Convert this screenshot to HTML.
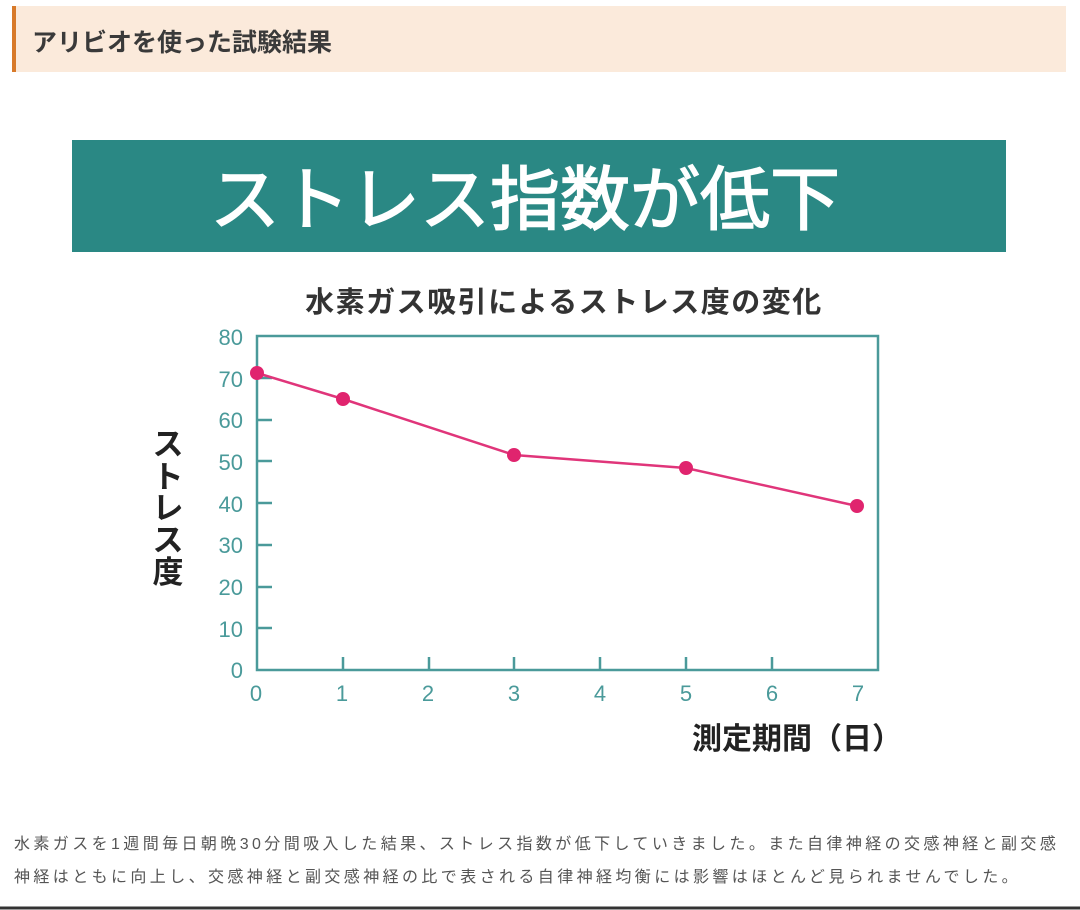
<!DOCTYPE html>
<html><head><meta charset="utf-8"><style>
body{margin:0;width:1080px;height:910px;background:#fff;font-family:"Liberation Sans","Noto Sans CJK JP",sans-serif;position:relative;overflow:hidden}
.hd{position:absolute;left:12px;top:6px;width:1054px;height:66px;background:#fbeadb;border-left:4px solid #d87a2a;box-sizing:border-box}
.hd span{position:absolute;left:16px;top:17px;font-size:25px;font-weight:bold;color:#3a3a3a}
.p{position:absolute;left:14px;font-size:16px;color:#555;letter-spacing:3.4px;white-space:nowrap}
</style></head><body>
<div class="hd"><span>アリビオを使った試験結果</span></div>
<svg width="1080" height="910" style="position:absolute;left:0;top:0" font-family="Liberation Sans, Noto Sans CJK JP, sans-serif">
<rect x="72" y="140" width="934" height="112" fill="#2a8884"/>
<text x="525" y="224" font-size="70" fill="#fff" text-anchor="middle" stroke="#fff" stroke-width="1.5">ストレス指数が低下</text>
<text x="564" y="312" font-size="29" fill="#333" text-anchor="middle" font-weight="bold" letter-spacing="1.5">水素ガス吸引によるストレス度の変化</text>
<rect x="257" y="336" width="621" height="334" fill="none" stroke="#4a9a9a" stroke-width="2.5"/>
<g stroke="#4a9a9a" stroke-width="2.5">
<line x1="257" y1="628" x2="272" y2="628"/><line x1="257" y1="587" x2="272" y2="587"/><line x1="257" y1="545" x2="272" y2="545"/><line x1="257" y1="503" x2="272" y2="503"/><line x1="257" y1="461" x2="272" y2="461"/><line x1="257" y1="420" x2="272" y2="420"/><line x1="257" y1="378" x2="272" y2="378"/>
<line x1="343" y1="670" x2="343" y2="657"/><line x1="429" y1="670" x2="429" y2="657"/><line x1="514" y1="670" x2="514" y2="657"/><line x1="600" y1="670" x2="600" y2="657"/><line x1="686" y1="670" x2="686" y2="657"/><line x1="772" y1="670" x2="772" y2="657"/>
</g>
<g fill="#4a9a9a" font-size="22" text-anchor="end">
<text x="243" y="345">80</text><text x="243" y="387">70</text><text x="243" y="428">60</text><text x="243" y="470">50</text><text x="243" y="512">40</text><text x="243" y="553">30</text><text x="243" y="595">20</text><text x="243" y="637">10</text><text x="243" y="678">0</text>
</g>
<g fill="#4a9a9a" font-size="22" text-anchor="middle">
<text x="256" y="701">0</text><text x="342" y="701">1</text><text x="428" y="701">2</text><text x="514" y="701">3</text><text x="600" y="701">4</text><text x="686" y="701">5</text><text x="772" y="701">6</text><text x="858" y="701">7</text>
</g>
<polyline points="257,373 343,399 514,455 686,468 857,506" fill="none" stroke="#e0357a" stroke-width="2.5"/>
<g fill="#e0246e"><circle cx="257" cy="373" r="7"/><circle cx="343" cy="399" r="7"/><circle cx="514" cy="455" r="7"/><circle cx="686" cy="468" r="7"/><circle cx="857" cy="506" r="7"/></g>
<g font-size="31" fill="#222" text-anchor="middle" font-weight="bold">
<text x="168" y="455">ス</text><text x="168" y="488">ト</text><text x="168" y="519">レ</text><text x="168" y="551">ス</text><text x="168" y="583">度</text>
</g>
<text x="692" y="749" font-size="30" fill="#222" font-weight="bold">測定期間（日）</text>
<line x1="0" y1="908" x2="1080" y2="908" stroke="#333" stroke-width="3"/>
</svg>
<div class="p" style="top:830px">水素ガスを1週間毎日朝晩30分間吸入した結果、ストレス指数が低下していきました。また自律神経の交感神経と副交感</div>
<div class="p" style="top:863px">神経はともに向上し、交感神経と副交感神経の比で表される自律神経均衡には影響はほとんど見られませんでした。</div>
</body></html>
